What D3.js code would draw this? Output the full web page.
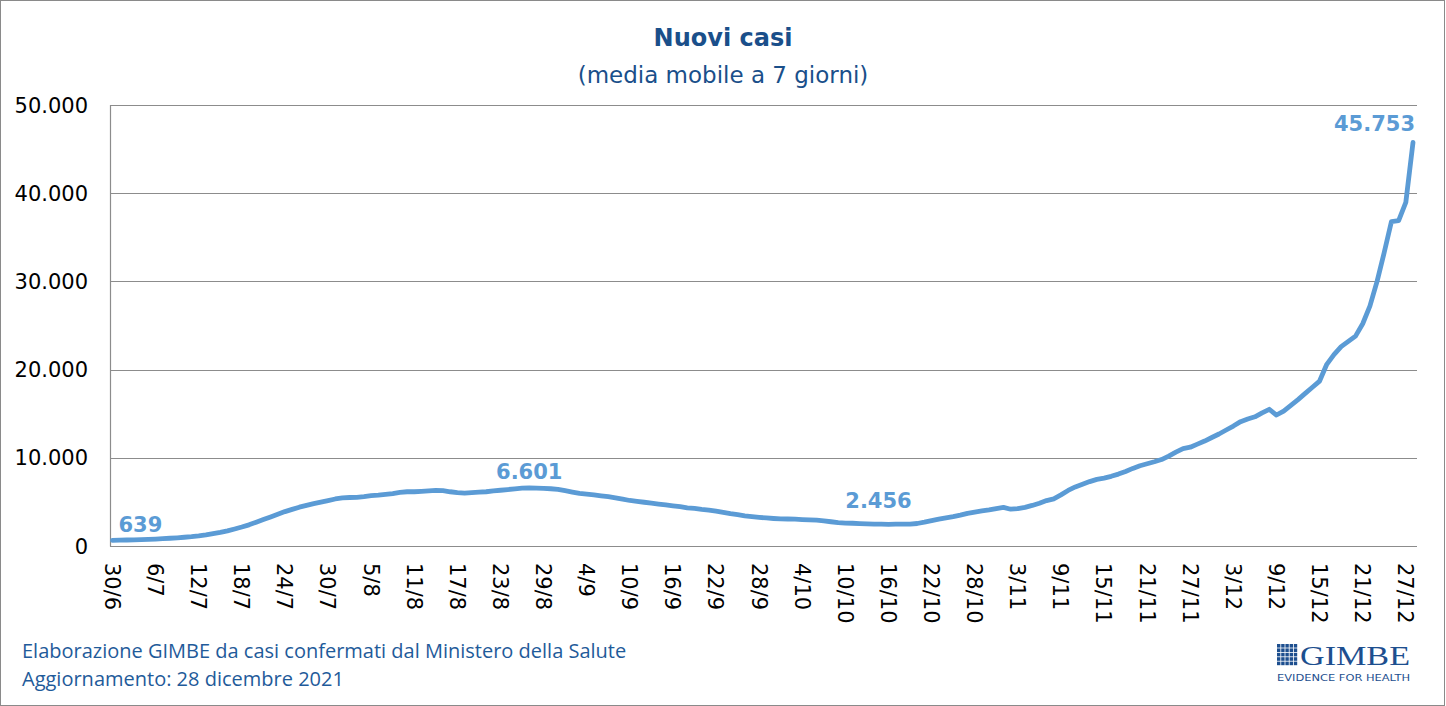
<!DOCTYPE html>
<html>
<head>
<meta charset="utf-8">
<script src="https://cdn.jsdelivr.net/npm/d3@7"></script>
<style>
html,body{margin:0;padding:0;background:#fff;}
svg{display:block;}
</style>
</head>
<body>
<svg id="chart" width="1446" height="706"></svg>
<script>
// ---- data ----
const startDate = "2021-06-30";
const endDate = "2021-12-28";
const tickLabels = ["30/6","6/7","12/7","18/7","24/7","30/7","5/8","11/8","17/8","23/8","29/8","4/9","10/9","16/9","22/9","28/9","4/10","10/10","16/10","22/10","28/10","3/11","9/11","15/11","21/11","27/11","3/12","9/12","15/12","21/12","27/12"];
const yTicks = [0,10000,20000,30000,40000,50000];
const yTickLabels = ["0","10.000","20.000","30.000","40.000","50.000"];
const values = [
 639,660,680,700,720,750,790,830,880,930,
 990,1060,1150,1260,1400,1540,1720,1930,2150,2400,
 2700,3000,3300,3600,3900,4150,4400,4600,4800,4980,
 5150,5330,5450,5500,5520,5600,5700,5760,5850,5950,
 6080,6150,6150,6200,6250,6300,6270,6150,6050,6000,
 6050,6100,6150,6250,6320,6400,6480,6550,6601,6560,
 6530,6490,6420,6270,6110,5960,5880,5800,5690,5590,
 5460,5310,5160,5060,4960,4860,4760,4660,4560,4460,
 4330,4260,4160,4080,3950,3800,3660,3550,3420,3330,
 3250,3180,3120,3070,3060,3050,3000,2960,2930,2850,
 2750,2660,2600,2580,2540,2510,2490,2470,2456,2470,
 2480,2490,2550,2700,2880,3050,3200,3330,3500,3700,
 3850,3980,4100,4250,4380,4170,4250,4380,4600,4850,
 5150,5350,5800,6300,6700,7000,7300,7550,7700,7900,
 8150,8450,8800,9100,9320,9550,9800,10200,10650,11050,
 11200,11550,11900,12300,12700,13150,13600,14100,14400,14650,
 15100,15500,14850,15300,15950,16600,17300,18000,18700,20600,
 21700,22600,23200,23800,25200,27200,30000,33300,36788,36878,
 38963,45753
];
const annotations = [
  {index:0, text:"639"},
  {index:58, text:"6.601"},
  {index:108, text:"2.456"},
  {index:181, text:"45.753"}
];
const titleText = "Nuovi casi";
const subtitleText = "(media mobile a 7 giorni)";
const footerLines = ["Elaborazione GIMBE da casi confermati dal Ministero della Salute","Aggiornamento: 28 dicembre 2021"];

// ---- layout ----
const parse = d3.timeParse("%Y-%m-%d");
const days = d3.timeDay.range(parse(startDate), d3.timeDay.offset(parse(endDate), 1));
const fmt = d3.timeFormat("%-d/%-m");
const data = days.map((d,i)=>({date:d, label:fmt(d), value:values[i]}));

const svg = d3.select("#chart");
const W = 1446, H = 706;
const plot = {left:110, right:1417, top:105, bottom:546};
const lineColor = "#5b9bd5";
const navy = "#1a4f8a";
const grid = "#8c8c8c";

svg.append("rect").attr("x",0.5).attr("y",0.5).attr("width",W-2).attr("height",H-1)
  .attr("fill","#fff").attr("stroke","#8a8a8a").attr("stroke-width",1);

const x = d3.scaleLinear().domain([0, data.length-1]).range([112.5, 1413]);
const y = d3.scaleLinear().domain([0, 50000]).range([plot.bottom, plot.top]);

// gridlines
svg.append("g").selectAll("line").data(yTicks).join("line")
  .attr("x1",plot.left).attr("x2",plot.right)
  .attr("y1",d=>Math.round(y(d))+0.5).attr("y2",d=>Math.round(y(d))+0.5)
  .attr("stroke",grid).attr("stroke-width",1.2);
// left axis line
svg.append("line").attr("x1",plot.left+0.5).attr("x2",plot.left+0.5)
  .attr("y1",plot.top).attr("y2",plot.bottom+0.5).attr("stroke",grid).attr("stroke-width",1.2);

// y tick labels
svg.append("g").selectAll("text").data(yTicks).join("text")
  .attr("x",88).attr("y",d=>y(d)).attr("dy","0.36em")
  .attr("text-anchor","end")
  .style("font-family","DejaVu Sans, sans-serif").style("font-size","21px").attr("fill","#000")
  .text((d,i)=>yTickLabels[i]);

// x tick labels
const labelIndex = new Map(data.map((d,i)=>[d.label,i]));
svg.append("g").selectAll("text").data(tickLabels).join("text")
  .attr("transform",d=>`translate(${x(labelIndex.get(d))},563) rotate(90)`)
  .attr("text-anchor","start").attr("dy","0.36em")
  .style("font-family","DejaVu Sans, sans-serif").style("font-size","21px").attr("fill","#000")
  .text(d=>d);

// line
const line = d3.line().x((d,i)=>x(i)).y(d=>y(d.value));
svg.append("path").datum(data).attr("d",line)
  .attr("fill","none").attr("stroke",lineColor).attr("stroke-width",4.8)
  .attr("stroke-linejoin","round").attr("stroke-linecap","round");

// annotations
const annStyle = {
  0:{anchor:"start",dx:6,dy:-8},
  58:{anchor:"middle",dx:0,dy:-9},
  108:{anchor:"middle",dx:-10,dy:-16},
  181:{anchor:"end",dx:2,dy:-11}
};
svg.append("g").selectAll("text").data(annotations).join("text")
  .attr("x",d=>x(d.index)+annStyle[d.index].dx)
  .attr("y",d=>y(values[d.index])+annStyle[d.index].dy)
  .attr("text-anchor",d=>annStyle[d.index].anchor)
  .style("font-family","DejaVu Sans, sans-serif").style("font-size","21px").style("font-weight","bold")
  .attr("fill",lineColor).text(d=>d.text);

// title
svg.append("text").attr("x",723).attr("y",46).attr("text-anchor","middle")
  .style("font-family","DejaVu Sans, sans-serif").style("font-size","24px").style("font-weight","bold")
  .attr("fill",navy).text(titleText);
svg.append("text").attr("x",723).attr("y",83).attr("text-anchor","middle")
  .style("font-family","DejaVu Sans, sans-serif").style("font-size","23px")
  .attr("fill",navy).text(subtitleText);

// footer
svg.append("g").selectAll("text").data(footerLines).join("text")
  .attr("x",22).attr("y",(d,i)=>658+i*28)
  .style("font-family","Open Sans, sans-serif").style("font-size","20px")
  .attr("fill","#1f5b9a").text(d=>d);

// logo
const logo = svg.append("g").attr("transform","translate(1277,644)");
const cells = d3.range(25).map(k=>({r:Math.floor(k/5), c:k%5}));
logo.selectAll("rect").data(cells).join("rect")
  .attr("x",d=>d.c*4.2).attr("y",d=>d.r*4.4).attr("width",3.4).attr("height",3.6)
  .attr("fill","#1d4f8f");
logo.append("text").attr("x",23).attr("y",21)
  .attr("textLength",110).attr("lengthAdjust","spacingAndGlyphs")
  .style("font-family","Liberation Serif, serif").style("font-size","28px")
  .attr("fill","#1d4f8f").text("GIMBE");
logo.append("text").attr("x",0).attr("y",37)
  .attr("textLength",133).attr("lengthAdjust","spacingAndGlyphs")
  .style("font-family","DejaVu Sans, sans-serif").style("font-size","9px")
  .attr("fill","#1d4f8f").text("EVIDENCE FOR HEALTH");
</script>
</body>
</html>
